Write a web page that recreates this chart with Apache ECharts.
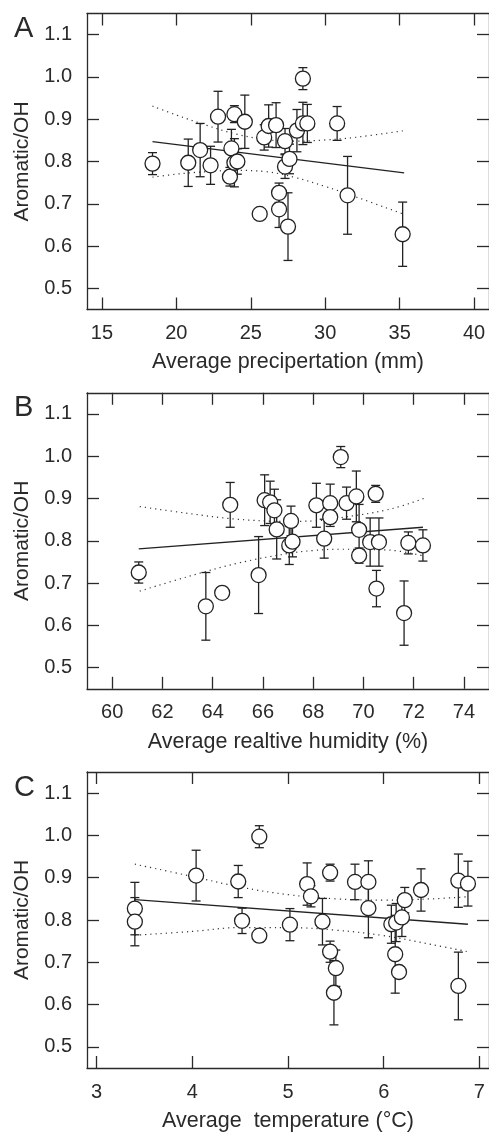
<!DOCTYPE html>
<html>
<head>
<meta charset="utf-8">
<script src="https://cdn.jsdelivr.net/npm/echarts@6/dist/echarts.min.js"></script>
<style>
  html, body { margin: 0; padding: 0; background: #fff; }
  #main { width: 489px; height: 1133px; }
</style>
</head>
<body>
<div id="main"></div>
<script>
// panel A - precipitation
var aX   = [18.4, 20.8, 21.6, 22.3, 22.8, 23.6, 23.7, 23.9, 23.9, 24.1, 24.6, 25.6, 25.9, 26.2, 26.7, 26.9, 26.9, 27.3, 27.3, 27.6, 27.5, 28.1, 28.5, 28.5, 28.8, 30.8, 31.5, 35.2];
var aY   = [0.795, 0.797, 0.827, 0.791, 0.906, 0.764, 0.831, 0.912, 0.797, 0.800, 0.894, 0.676, 0.857, 0.884, 0.886, 0.726, 0.687, 0.848, 0.788, 0.806, 0.646, 0.873, 0.996, 0.890, 0.890, 0.890, 0.720, 0.628];
var aErr = [0.026, 0.056, 0.063, 0.045, 0.060, 0.022, 0.045, 0.020, 0.057, 0.030, 0.063, 0, 0.030, 0.050, 0.053, 0.023, 0.043, 0.030, 0.028, 0.035, 0.080, 0.050, 0.026, 0.050, 0.045, 0.040, 0.092, 0.076];
var aFitX = [18.4, 35.3];
var aFitY = [0.847, 0.773];
var aBandX  = [18.4, 20, 22, 24, 26, 28, 30, 32, 35.3];
var aBandUp = [0.931, 0.910, 0.886, 0.865, 0.852, 0.848, 0.851, 0.857, 0.873];
var aBandLo = [0.763, 0.770, 0.776, 0.779, 0.776, 0.762, 0.741, 0.717, 0.675];
var aTicks = [15, 20, 25, 30, 35, 40];

// panel B - relative humidity
var bX   = [61.06, 63.73, 64.38, 64.7, 65.83, 66.07, 66.29, 66.46, 66.55, 67.12, 67.05, 67.18, 68.13, 68.44, 68.68, 68.68, 69.1, 69.33, 69.72, 69.83, 69.83, 70.27, 70.49, 70.62, 70.52, 71.62, 71.79, 72.37];
var bY   = [0.725, 0.645, 0.677, 0.885, 0.719, 0.896, 0.891, 0.872, 0.827, 0.847, 0.789, 0.798, 0.884, 0.805, 0.889, 0.856, 0.998, 0.889, 0.905, 0.826, 0.765, 0.797, 0.911, 0.797, 0.687, 0.629, 0.795, 0.789];
var bErr = [0.025, 0.080, 0, 0.053, 0.091, 0.060, 0.050, 0.050, 0.070, 0.035, 0.045, 0.036, 0.052, 0.046, 0.045, 0.022, 0.025, 0.038, 0.060, 0.060, 0.018, 0.057, 0.020, 0.057, 0.043, 0.076, 0.026, 0.037];
var bFitX = [61.06, 72.37];
var bFitY = [0.781, 0.832];
var bBandX  = [61.1, 63, 65, 67, 68, 69, 71, 72.4];
var bBandUp = [0.881, 0.865, 0.851, 0.846, 0.847, 0.854, 0.874, 0.900];
var bBandLo = [0.681, 0.715, 0.747, 0.770, 0.777, 0.780, 0.778, 0.764];
var bTicks = [60, 62, 64, 66, 68, 70, 72, 74];

// panel C - temperature
var cX   = [3.40, 3.40, 4.04, 4.48, 4.52, 4.70, 4.70, 5.02, 5.20, 5.24, 5.36, 5.44, 5.44, 5.50, 5.48, 5.70, 5.84, 5.84, 6.08, 6.12, 6.13, 6.16, 6.19, 6.22, 6.39, 6.78, 6.88, 6.78];
var cY   = [0.827, 0.796, 0.905, 0.891, 0.798, 0.997, 0.763, 0.789, 0.885, 0.856, 0.796, 0.912, 0.725, 0.686, 0.628, 0.890, 0.890, 0.828, 0.790, 0.719, 0.794, 0.677, 0.806, 0.847, 0.871, 0.893, 0.886, 0.644];
var cErr = [0.062, 0.057, 0.060, 0.038, 0.030, 0.026, 0.015, 0.038, 0.050, 0.025, 0.055, 0.020, 0.025, 0.043, 0.076, 0.042, 0.050, 0.070, 0.045, 0.092, 0.045, 0, 0.045, 0.030, 0.050, 0.063, 0.053, 0.080];
var cFitX = [3.4, 6.88];
var cFitY = [0.848, 0.790];
var cBandX  = [3.4, 4, 4.5, 5, 5.5, 6, 6.5, 6.88];
var cBandUp = [0.932, 0.903, 0.878, 0.860, 0.850, 0.847, 0.850, 0.855];
var cBandLo = [0.764, 0.773, 0.782, 0.782, 0.776, 0.763, 0.742, 0.725];
var cTicks = [3, 4, 5, 6, 7];

var yTicks = [0.5, 0.6, 0.7, 0.8, 0.9, 1.0, 1.1];

var FONT = "'Liberation Sans', Arial, sans-serif";
var INK = '#2a2a2a';

var panels = [
  { letter: 'A', name: 'Average precipertation (mm)', min: 14, max: 41, ticks: aTicks,
    x: aX, y: aY, err: aErr, fitX: aFitX, fitY: aFitY, bandX: aBandX, bandUp: aBandUp, bandLo: aBandLo },
  { letter: 'B', name: 'Average realtive humidity (%)', min: 59, max: 75, ticks: bTicks,
    x: bX, y: bY, err: bErr, fitX: bFitX, fitY: bFitY, bandX: bBandX, bandUp: bBandUp, bandLo: bBandLo },
  { letter: 'C', name: 'Average  temperature (\u00B0C)', min: 2.9, max: 7.1, ticks: cTicks,
    x: cX, y: cY, err: cErr, fitX: cFitX, fitY: cFitY, bandX: cBandX, bandUp: cBandUp, bandLo: cBandLo }
];

var grids = [], xAxes = [], yAxes = [], series = [], titles = [];
var tops = [13.5, 392.8, 772];

function zip(a, b) {
  return a.map(function (v, i) { return [v, b[i]]; });
}

panels.forEach(function (p, k) {
  grids.push({ left: 87, top: tops[k], width: 403, height: 296 });
  titles.push({ text: p.letter, left: 9, top: tops[k] - 4,
    textStyle: { fontFamily: FONT, fontSize: 29, fontWeight: 'normal', color: INK } });

  var axisLine = { show: true, lineStyle: { color: INK, width: 1.3 } };
  var tick = { show: true, inside: true, length: 12, lineStyle: { color: INK, width: 1.3 } };

  xAxes.push({
    type: 'value', gridIndex: k, position: 'bottom', min: p.min, max: p.max,
    axisLine: axisLine,
    axisTick: Object.assign({ customValues: p.ticks }, tick),
    axisLabel: { customValues: p.ticks, margin: 14, fontFamily: FONT, fontSize: 20, color: INK },
    splitLine: { show: false },
    name: p.name, nameLocation: 'middle', nameGap: 42,
    nameTextStyle: { fontFamily: FONT, fontSize: 21.5, color: INK }
  });
  xAxes.push({
    type: 'value', gridIndex: k, position: 'top', min: p.min, max: p.max,
    axisLine: axisLine,
    axisTick: Object.assign({ customValues: p.ticks }, tick),
    axisLabel: { show: false }, splitLine: { show: false }
  });
  yAxes.push({
    type: 'value', gridIndex: k, position: 'left', min: 0.45, max: 1.15,
    axisLine: axisLine,
    axisTick: Object.assign({ customValues: yTicks }, tick),
    axisLabel: { customValues: yTicks, margin: 15, fontFamily: FONT, fontSize: 20, color: INK,
      formatter: function (v) { return v.toFixed(1); } },
    splitLine: { show: false },
    name: 'Aromatic/OH', nameLocation: 'middle', nameGap: 54, nameRotate: 90,
    nameTextStyle: { fontFamily: FONT, fontSize: 21, color: INK }
  });
  yAxes.push({
    type: 'value', gridIndex: k, position: 'right', min: 0.45, max: 1.15,
    axisLine: axisLine,
    axisTick: Object.assign({ customValues: yTicks }, tick),
    axisLabel: { show: false }, splitLine: { show: false }
  });

  var xi = k * 2, yi = k * 2;

  // confidence band (dotted)
  [p.bandUp, p.bandLo].forEach(function (band) {
    series.push({
      type: 'line', xAxisIndex: xi, yAxisIndex: yi, data: zip(p.bandX, band),
      smooth: 0.4, showSymbol: false, silent: true, z: 1,
      lineStyle: { color: '#333', width: 1.2, type: [1.2, 4] }
    });
  });
  // regression line
  series.push({
    type: 'line', xAxisIndex: xi, yAxisIndex: yi, data: zip(p.fitX, p.fitY),
    showSymbol: false, silent: true, z: 2,
    lineStyle: { color: '#222', width: 1.3 }
  });
  // error bars
  series.push({
    type: 'custom', xAxisIndex: xi, yAxisIndex: yi, z: 3,
    data: p.x.map(function (v, i) { return [v, p.y[i], p.err[i]]; }),
    renderItem: function (params, api) {
      var e = api.value(2);
      if (!e) return null;
      var top = api.coord([api.value(0), api.value(1) + e]);
      var bot = api.coord([api.value(0), api.value(1) - e]);
      var st = { stroke: '#222', lineWidth: 1.3 };
      var hw = 4.5;
      return {
        type: 'group',
        children: [
          { type: 'line', shape: { x1: top[0], y1: top[1], x2: bot[0], y2: bot[1] }, style: st },
          { type: 'line', shape: { x1: top[0] - hw, y1: top[1], x2: top[0] + hw, y2: top[1] }, style: st },
          { type: 'line', shape: { x1: bot[0] - hw, y1: bot[1], x2: bot[0] + hw, y2: bot[1] }, style: st }
        ]
      };
    }
  });
  // points
  series.push({
    type: 'scatter', xAxisIndex: xi, yAxisIndex: yi, z: 4,
    data: zip(p.x, p.y), symbol: 'circle', symbolSize: 15,
    itemStyle: { color: '#fff', borderColor: '#222', borderWidth: 1.3, opacity: 1 }
  });
});

var chart = echarts.init(document.getElementById('main'), null, { renderer: 'canvas' });
chart.setOption({
  backgroundColor: '#fff',
  animation: false,
  title: titles,
  grid: grids,
  xAxis: xAxes,
  yAxis: yAxes,
  series: series
});
</script>
</body>
</html>
